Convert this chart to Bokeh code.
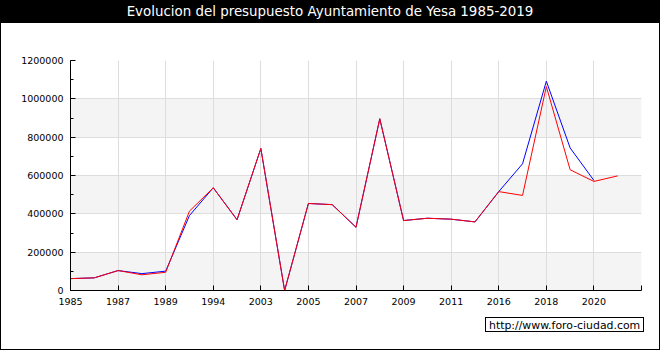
from bokeh.plotting import figure
from bokeh.layouts import column, row
from bokeh.models import (Range1d, FixedTicker, SingleIntervalTicker, BoxAnnotation, Div,
                          NumeralTickFormatter)
from bokeh.embed import file_html
from bokeh.resources import INLINE

# ---- data ----
years = ["1985", "1986", "1987", "1988", "1989", "1991", "1994", "1999", "2003", "2004",
         "2005", "2006", "2007", "2008", "2009", "2010", "2011", "2015", "2016", "2017",
         "2018", "2019", "2020", "2021"]
red_values = [62000, 66000, 104000, 82000, 95000, 414000, 536000, 369000, 741000, 0,
              454000, 448000, 330000, 896000, 365000, 377000, 372000, 358000, 516000,
              496000, 1064000, 630000, 569000, 598000]
blue_values = [62000, 66000, 104000, 88000, 101000, 391000, 536000, 369000, 741000, 0,
               454000, 448000, 330000, 896000, 365000, 377000, 372000, 358000, 516000,
               661000, 1092000, 744000, 574000]
y_ticks = [0, 200000, 400000, 600000, 800000, 1000000, 1200000]
title_text = "Evolucion del presupuesto Ayuntamiento de Yesa 1985-2019"
watermark = "http://www.foro-ciudad.com"

FONT = "DejaVu Sans"
W = 660
TOP_H = 23      # black title bar
MAIN_H = 289    # chart
BOT_H = 38      # strip with the watermark

# ---- title bar ----
top = Div(text=title_text, width=W, height=TOP_H, margin=0,
          styles={"background-color": "black", "color": "white",
                  "font-family": "'DejaVu Sans'", "font-size": "13.4px",
                  "text-align": "center", "line-height": "24px",
                  "white-space": "nowrap", "overflow": "hidden"})

# ---- main chart ----
p = figure(width=W - 2, height=MAIN_H, output_backend="svg", toolbar_location=None,
           x_range=Range1d(0, 24), y_range=Range1d(y_ticks[0], y_ticks[-1]),
           min_border_left=69, min_border_right=18, min_border_top=37,
           min_border_bottom=22, margin=0)
p.background_fill_color = "white"
p.border_fill_color = "white"
p.outline_line_color = None

for i in range(0, len(y_ticks) - 1, 2):
    p.add_layout(BoxAnnotation(bottom=y_ticks[i], top=y_ticks[i + 1], fill_color="#f4f4f4",
                               fill_alpha=1, line_color=None, level="image"))

p.line(list(range(len(blue_values))), blue_values, line_color="#0000ff", line_width=1)
p.line(list(range(len(red_values))), red_values, line_color="#ff0000", line_width=1)

p.xaxis.ticker = FixedTicker(ticks=list(range(0, 25, 2)))
overrides = {i: years[i] for i in range(0, len(years), 2)}
overrides[24] = ""
p.xaxis.major_label_overrides = overrides
p.yaxis.ticker = SingleIntervalTicker(interval=200000, num_minor_ticks=2)
p.yaxis.formatter = NumeralTickFormatter(format="0")
for ax in (p.xaxis, p.yaxis):
    ax.axis_line_color = "black"
    ax.major_tick_line_color = "black"
    ax.minor_tick_line_color = "black"
    ax.major_tick_in = 5
    ax.major_tick_out = 0
    ax.minor_tick_in = 3
    ax.minor_tick_out = 0
    ax.major_label_text_font = FONT
    ax.major_label_text_font_size = "9.5px"
    ax.major_label_text_color = "black"
p.xaxis.minor_tick_line_color = None
p.xaxis.major_label_standoff = 7
p.yaxis.major_label_standoff = 7

p.grid.grid_line_color = "#dddddd"
p.grid.grid_line_width = 1
p.xgrid.ticker = p.xaxis.ticker
p.ygrid.ticker = SingleIntervalTicker(interval=200000)
p.grid.level = "underlay"

side_style = {"background-color": "black"}
left_edge = Div(text="", width=1, height=MAIN_H, margin=0, styles=side_style)
right_edge = Div(text="", width=1, height=MAIN_H, margin=0, styles=side_style)
middle = row(left_edge, p, right_edge, spacing=0, margin=0)

# ---- bottom strip with watermark ----
wm_html = ('<span style="display:inline-block; border:1px solid black; background:white; '
           'padding:0 3px; line-height:15px; height:15px;">' + watermark + '</span>')
bot = Div(text=wm_html, width=W, height=BOT_H, margin=0,
          styles={"background-color": "white", "color": "black",
                  "font-family": "'DejaVu Sans'", "font-size": "10.9px",
                  "box-sizing": "border-box", "border-left": "1px solid black",
                  "border-right": "1px solid black", "border-bottom": "1px solid black",
                  "padding-left": "484px", "padding-top": "5px",
                  "white-space": "nowrap", "overflow": "hidden"})

layout = column(top, middle, bot, spacing=0, margin=0)

open("out.html", "w").write(file_html(layout, INLINE))
